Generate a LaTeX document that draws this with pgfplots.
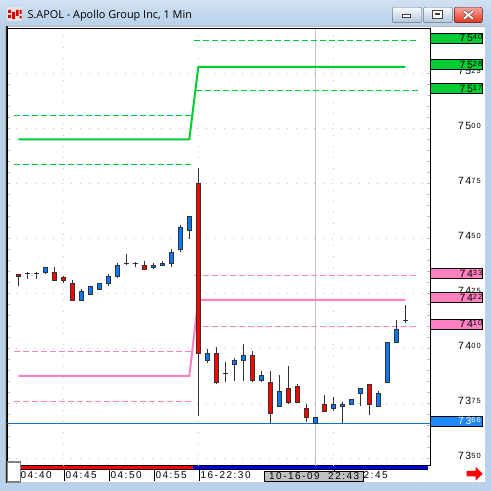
\documentclass[border=0pt]{standalone}
\usepackage{pgfplots}
\pgfplotsset{compat=1.18}
\usepackage{pgfplotstable}
\usepackage{fontspec}
\setmainfont{Liberation Sans}
\newfontfamily\titlefont{Open Sans}
\newfontfamily\axisfont[LetterSpace=15]{Liberation Sans}

\definecolor{winblue}{RGB}{185,209,234}
\definecolor{winbluelt}{RGB}{208,225,243}
\definecolor{upblue}{RGB}{0,120,255}
\definecolor{downred}{RGB}{255,0,0}
\definecolor{wick}{RGB}{51,51,51}
\definecolor{bandgreen}{RGB}{0,204,51}
\definecolor{bandpink}{RGB}{255,128,192}
\definecolor{lowblue}{RGB}{24,116,205}
\definecolor{boxblue}{RGB}{30,136,255}
\definecolor{gridgray}{RGB}{195,195,195}
\definecolor{cursorgray}{RGB}{192,192,192}
\definecolor{sessblue}{RGB}{0,0,230}

% price label: whole part, last two digits small and raised
\newcommand{\pr}[2]{{\axisfont\fontsize{10.5}{11}\selectfont #1\raisebox{1.8pt}{\fontsize{7.5}{8}\selectfont #2}}}
% time label with its separator rule
\newcommand{\tl}[1]{\rule[-2.6pt]{0.6pt}{10.5pt}\hspace{1.5pt}{\axisfont\fontsize{10}{11}\selectfont #1}}

% one-minute bars: index, open, high, low, close
\pgfplotstableread{
i o h l c
3  7434.4 7436.8 7433.6 7436.8
7  7421.8 7427.0 7421.8 7425.9
8  7424.5 7427.9 7424.5 7427.9
9  7426.8 7429.5 7426.8 7429.5
10 7429.4 7433.8 7428.5 7432.7
11 7432.7 7438.6 7431.8 7437.7
15 7436.8 7438.6 7435.9 7437.7
16 7437.7 7439.5 7437.7 7438.6
17 7438.6 7445.0 7436.8 7443.6
18 7445.0 7455.9 7443.6 7455.0
19 7453.6 7460.0 7449.8 7460.0
21 7394.4 7399.5 7393.5 7397.7
24 7392.7 7395.5 7385.3 7394.5
25 7394.4 7401.8 7385.3 7396.8
27 7385.5 7389.5 7384.5 7387.7
29 7373.6 7387.7 7373.6 7380.5
33 7366.0 7368.6 7366.0 7368.6
35 7372.7 7377.7 7371.4 7374.5
36 7373.6 7375.5 7366.0 7374.5
37 7374.5 7376.8 7374.5 7376.8
38 7379.5 7381.8 7373.6 7381.8
40 7373.6 7380.5 7373.6 7379.5
41 7384.5 7402.7 7384.5 7402.7
42 7402.7 7412.7 7402.7 7408.6
}\upbars

\pgfplotstableread{
i o h l c
0  7433.6 7433.8 7428.5 7432.6
4  7434.5 7437.0 7430.9 7430.9
5  7432.0 7432.7 7429.5 7431.0
6  7429.5 7431.0 7421.8 7421.8
14 7437.7 7439.5 7435.9 7435.9
20 7475.0 7481.8 7369.4 7397.7
22 7397.7 7400.5 7383.6 7384.5
26 7396.8 7398.6 7384.5 7385.5
28 7384.5 7389.5 7366.0 7370.5
30 7381.8 7391.8 7374.5 7375.5
31 7382.7 7383.6 7375.5 7375.5
32 7372.7 7374.5 7366.4 7368.6
34 7374.5 7378.6 7371.4 7371.4
39 7383.6 7383.6 7369.5 7374.5
}\downbars

\pgfplotstableread{
i o h l c
1  7434.0 7434.7 7431.6 7434.0
2  7434.0 7434.7 7431.6 7434.0
12 7438.5 7442.7 7437.7 7438.5
13 7438.5 7439.4 7436.8 7438.5
23 7388.6 7393.8 7384.5 7388.6
43 7412.7 7419.5 7411.6 7412.7
}\dojibars

% vertical segments drawn as one-sided error bars
\pgfplotsset{
  seg/.style 2 args={forget plot, draw=none, mark=none,
    error bars/.cd, y dir=plus, y explicit, error mark=none,
    error bar style={draw=#1, solid, line width=#2}},
}

\begin{document}
\begin{tikzpicture}
\path[use as bounding box] (0,0) rectangle (491pt,491pt);

% window frame
\begin{scope}[shift={(0,491pt)}, x=1pt, y=-1pt]
  \fill[winblue] (0,0) rectangle (491,491);
  \shade[top color=winbluelt, bottom color=winblue] (0,0) rectangle (491,24);
  \fill[white] (5,26) rectangle (485,482);
  \draw[gray!55, line width=1pt] (5,26.5) -- (485,26.5);
  \fill[gray!60] (5,26) rectangle (6,483);
  \fill[black!85] (6,26.5) rectangle (7.6,483);
\end{scope}

\begin{axis}[
  at={(7.5pt,25pt)}, anchor=south west,
  scale only axis, width=422.5pt, height=437.5pt,
  xmin=-1.2, xmax=45.74, ymin=7346.5, ymax=7545.4,
  axis line style={black, line width=1pt},
  clip mode=individual,
  tick align=inside,
  major tick length=3pt, minor tick length=3pt,
  tick style={gridgray, line width=0.8pt},
  ytick={7350,7375,...,7525},
  yticklabels={\pr{73}{50},\pr{73}{75},\pr{74}{00},\pr{74}{25},\pr{74}{50},\pr{74}{75},\pr{75}{00},\pr{75}{25}},
  ytick pos=both, yticklabel pos=right,
  yticklabel style={anchor=east, xshift=51pt, yshift=2pt, inner sep=0pt},
  minor y tick num=4,
  ymajorgrids=true,
  major grid style={gridgray, dash pattern=on 1pt off 8pt},
  xtick={0,5,10,15,20,35},
  xticklabels={\tl{04:40},\tl{04:45},\tl{04:50},\tl{04:55},\tl{16-22:30},\tl{\hspace*{21pt}22:45}},
  xtick pos=bottom,
  xtick style={draw=none},
  xticklabel style={anchor=north west, inner sep=0pt, yshift=-4pt},
  extra x ticks={5,20,35},
  extra x tick labels={},
  extra x tick style={xmajorgrids=true, tick style={draw=none},
    major grid style={gridgray, dash pattern=on 1pt off 10pt}},
]
% cursor and session low
\addplot[cursorgray, line width=1pt] coordinates {(33,7346.5) (33,7545.4)};
\addplot[lowblue, line width=1pt] coordinates {(-1.2,7366) (45.74,7366)};

% pink envelope
\addplot[bandpink, line width=2pt] coordinates {(0,7387.5) (19,7387.5) (20,7422) (43,7422)};
\addplot[bandpink, line width=1pt, dash pattern=on 6.5pt off 2.5pt] coordinates {(-0.48,7398.6) (19.4,7398.6)};
\addplot[bandpink, line width=1pt, dash pattern=on 6.5pt off 2.5pt] coordinates {(-0.48,7376) (19.4,7376)};
\addplot[bandpink, line width=1pt, dash pattern=on 6.5pt off 2.5pt] coordinates {(19.5,7433) (44.4,7433)};
\addplot[bandpink, line width=1pt, dash pattern=on 6.5pt off 2.5pt] coordinates {(19.5,7410) (44.4,7410)};

% green envelope
\addplot[bandgreen, line width=2pt] coordinates {(0,7495) (19,7495) (20,7528) (43,7528)};
\addplot[bandgreen, line width=1pt, dash pattern=on 6.5pt off 2.5pt] coordinates {(-0.48,7506) (19.4,7506)};
\addplot[bandgreen, line width=1pt, dash pattern=on 6.5pt off 2.5pt] coordinates {(-0.48,7483.5) (19.4,7483.5)};
\addplot[bandgreen, line width=1pt, dash pattern=on 6.5pt off 2.5pt] coordinates {(19.5,7540) (44.4,7540)};
\addplot[bandgreen, line width=1pt, dash pattern=on 6.5pt off 2.5pt] coordinates {(19.7,7517) (44.4,7517)};

% wicks
\addplot[seg={wick}{1pt}] table[x=i, y=l, y error plus expr=\thisrow{h}-\thisrow{l}] {\upbars};
\addplot[seg={wick}{1pt}] table[x=i, y=l, y error plus expr=\thisrow{h}-\thisrow{l}] {\downbars};
\addplot[seg={wick}{1pt}] table[x=i, y=l, y error plus expr=\thisrow{h}-\thisrow{l}] {\dojibars};

% bodies: dark outline, then coloured core
\addplot[seg={wick}{5pt}]
  table[x=i, y expr=\thisrow{o}-0.23, y error plus expr=\thisrow{c}-\thisrow{o}+0.46] {\upbars};
\addplot[seg={upblue}{3pt}]
  table[x=i, y expr=\thisrow{o}+0.23, y error plus expr=\thisrow{c}-\thisrow{o}-0.46] {\upbars};
\addplot[seg={wick}{5pt}]
  table[x=i, y expr=\thisrow{c}-0.23, y error plus expr=\thisrow{o}-\thisrow{c}+0.46] {\downbars};
\addplot[seg={downred}{3pt}]
  table[x=i, y expr=\thisrow{c}+0.23, y error plus expr=\thisrow{o}-\thisrow{c}-0.46] {\downbars};
\addplot[forget plot, only marks, mark=-, mark size=2.5pt, mark options={draw=wick, line width=1pt}]
  table[x=i, y=c] {\dojibars};

% anchors for the price flags on the scale
\coordinate (f7540) at (axis cs:45.74,7540);
\coordinate (f7528) at (axis cs:45.74,7528);
\coordinate (f7517) at (axis cs:45.74,7517);
\coordinate (f7433) at (axis cs:45.74,7433);
\coordinate (f7422) at (axis cs:45.74,7422);
\coordinate (f7410) at (axis cs:45.74,7410);
\coordinate (f7366) at (axis cs:45.74,7366);
\end{axis}

% price flags
\tikzset{flag/.style={draw=black, line width=0.8pt, fill=#1, anchor=west, yshift=2.2pt,
  minimum height=10pt, text width=52pt, align=right, inner sep=0pt}}
\node[flag=bandgreen] at (f7540) {\pr{75}{40}\hspace*{1.5pt}};
\node[flag=bandgreen] at (f7528) {\pr{75}{28}\hspace*{1.5pt}};
\node[flag=bandgreen] at (f7517) {\pr{75}{17}\hspace*{1.5pt}};
\node[flag=bandpink] at (f7433) {\pr{74}{33}\hspace*{1.5pt}};
\node[flag=bandpink] at (f7422) {\pr{74}{22}\hspace*{1.5pt}};
\node[flag=bandpink] at (f7410) {\pr{74}{10}\hspace*{1.5pt}};
\node[flag=boxblue, text=white] at (f7366) {\pr{73}{66}\hspace*{1.5pt}};

\begin{scope}[shift={(0,491pt)}, x=1pt, y=-1pt]
  % session strip under the time scale
  \fill[red] (20.7,466.5) rectangle (193.3,469);
  \fill[sessblue] (193.3,466.5) rectangle (427.7,469);
  \draw[black, line width=0.6pt] (20.7,469.2) -- (427.7,469.2);
  % corner box
  \filldraw[fill=white, draw=gray, line width=1.2pt] (7.3,462) rectangle (20.3,482);
  % cursor time
  \node[draw=black, fill=cursorgray, line width=0.8pt, anchor=west, minimum width=99pt,
    minimum height=10.7pt, inner sep=0pt] at (264.3,476.3)
    {\axisfont\fontsize{10}{11}\selectfont 10-16-09\ \ 22:43};
  % scroll arrow
  \fill[red] (466.7,471) -- (475.5,471) -- (475.5,466.7) -- (482.7,473.7) -- (475.5,480.7)
    -- (475.5,476.5) -- (466.7,476.5) -- cycle;

  % title bar
  \fill[gray!20] (7,7) rectangle (22,21);
  \fill[red!85!black] (8,10) rectangle (11,13) (12,12) rectangle (15,19) (8,15) rectangle (11,18)
    (16,10) rectangle (18.5,16) (19.5,10) rectangle (21.5,14) (19.5,16) rectangle (21.5,18.5);
  \node[anchor=base west, inner sep=0pt] at (27.3,18.3)
    {\titlefont\fontsize{10.9}{13}\selectfont S.APOL - Apollo Group Inc, 1 Min};
  \shadedraw[rounded corners=2pt, top color=white!92!winblue, bottom color=winblue!85!gray,
    draw=black!45!winblue] (392.3,7.3) rectangle (421.7,22.7);
  \shadedraw[rounded corners=2pt, top color=white!92!winblue, bottom color=winblue!85!gray,
    draw=black!45!winblue] (423.3,7.3) rectangle (452.3,22.7);
  \shadedraw[rounded corners=2pt, top color=red!35!white!90!brown, bottom color=red!60!brown,
    draw=black!60!red] (454.3,7.3) rectangle (482.3,22.7);
  \filldraw[fill=white, draw=black!75, line width=0.8pt] (402,14.3) rectangle (410.7,17.3);
  \filldraw[fill=white, draw=black!75, line width=0.8pt] (432.5,10.8) rectangle (442.3,18);
  \fill[black!75] (435,13.3) rectangle (439.8,15.5);
  \draw[black!70, line width=3pt] (464,11.3) -- (472.8,18.7) (464,18.7) -- (472.8,11.3);
  \draw[white, line width=1.8pt] (464,11.3) -- (472.8,18.7) (464,18.7) -- (472.8,11.3);
\end{scope}
\end{tikzpicture}
\end{document}
